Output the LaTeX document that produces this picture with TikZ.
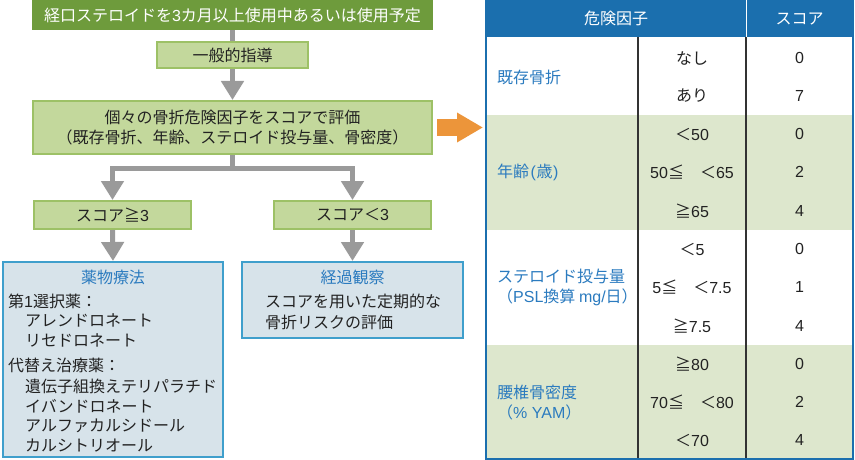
\documentclass[tikz,border=0pt]{standalone}
\usepackage{fontspec}
\setmainfont{Noto Sans CJK JP}
\newfontfamily\lat{Liberation Sans}
\usetikzlibrary{arrows.meta}
\definecolor{dkgreen}{HTML}{6E9B3C}
\definecolor{ltgreen}{HTML}{C3D89C}
\definecolor{ltgreenbd}{HTML}{9DC166}
\definecolor{bluefill}{HTML}{D7E3EA}
\definecolor{bluebd}{HTML}{3F9FCC}
\definecolor{bluetext}{HTML}{2B7BBF}
\definecolor{conngray}{HTML}{9A9A9A}
\definecolor{arrorange}{HTML}{EC953A}
\definecolor{hdrblue}{HTML}{1B6FAE}
\definecolor{rowgreen}{HTML}{DDE7CD}
\definecolor{tabline}{HTML}{333333}
\definecolor{txt}{HTML}{222222}
\newcommand{\fsz}{\fontsize{16}{20}\selectfont}
\newcommand{\nm}[1]{{\lat #1}}
\begin{document}
\begin{tikzpicture}[x=1pt,y=-1pt,
  every node/.style={inner sep=0pt, font=\fsz, text=txt},
  darkbox/.style={fill=dkgreen, minimum width=401pt, minimum height=30pt, text=white},
  gbox/.style={draw=ltgreenbd, fill=ltgreen, line width=2pt},
  bbox/.style={draw=bluebd, fill=bluefill, line width=2pt},
  conn/.style={draw=conngray, line width=5pt},
  arr/.style={conn, -{Triangle[width=22pt,length=19pt]}},
  lbl/.style={anchor=west},
  btxt/.style={text=bluetext}
]
\useasboundingbox (0,0) rectangle (855,460);
\fill[white] (0,0) rectangle (855,460);

% ---- flow chart boxes
\node[darkbox] (top) at (232.5,15) {経口ステロイドを\nm{3}カ月以上使用中あるいは使用予定};
\node[gbox, minimum width=151pt, minimum height=26pt] (ippan) at (232.5,55) {一般的指導};
\node[gbox, minimum width=399pt, minimum height=53pt, align=center] (kojin) at (232.5,127.5)
  {個々の骨折危険因子をスコアで評価\\（既存骨折、年齢、ステロイド投与量、骨密度）};
\node[gbox, minimum width=157pt, minimum height=28pt] (s3) at (112.5,215) {スコア≧\nm{3}};
\node[gbox, minimum width=157pt, minimum height=28pt] (s2) at (352.5,215) {スコア＜\nm{3}};
\node[bbox, minimum width=220pt, minimum height=195pt] (yaku) at (113,359.5) {};
\node[bbox, minimum width=221pt, minimum height=76pt] (keika) at (352.5,300) {};

% ---- connectors
\coordinate (br) at (232.5,168);
\draw[conn] (top.south) -- (ippan.north);
\draw[arr] (ippan.south) -- (kojin.north);
\draw[conn] (kojin.south) -- (br);
\draw[arr] (br) -| (s3.north);
\draw[arr] (br) -| (s2.north);
\draw[arr] (s3.south) -- (yaku.north);
\draw[arr] (s2.south) -- (keika.north);

% ---- texts in blue boxes
\node[btxt] (yt) at (113,277) {薬物療法};
\node[lbl] (y1) at (8,301) {第\nm{1}選択薬：};
\node[lbl] (y2) at (25,320) {アレンドロネート};
\node[lbl] (y3) at (25,340) {リセドロネート};
\node[lbl] (y4) at (8,365) {代替え治療薬：};
\node[lbl] (y5) at (25,386) {遺伝子組換えテリパラチド};
\node[lbl] (y6) at (25,406) {イバンドロネート};
\node[lbl] (y7) at (25,426) {アルファカルシドール};
\node[lbl] (y8) at (25,446) {カルシトリオール};

\node[btxt] (kt) at (352.5,277) {経過観察};
\node[lbl] (k1) at (265,301) {スコアを用いた定期的な};
\node[lbl] (k2) at (265,322) {骨折リスクの評価};

% ---- orange arrow
\coordinate (oa) at (437,127.5);
\coordinate (ob) at (483,127.5);
\draw[arrorange, line width=16pt, -{Triangle[width=28pt,length=26pt]}] (oa) -- (ob);

% ---- table
\fill[hdrblue] (486,0) rectangle (853,37);
\fill[rowgreen] (487,115) rectangle (853,230);
\fill[rowgreen] (487,345) rectangle (853,459);
\draw[white, line width=0.8pt] (746,0) -- (746,37);
\draw[tabline, line width=1.2pt] (638,37) -- (638,459);
\draw[tabline, line width=1.2pt] (746,37) -- (746,459);
\draw[hdrblue, line width=1.6pt] (486,0) -- (486,459) -- (853,459) -- (853,0);

\node[text=white] (h1) at (616,18.5) {危険因子};
\node[text=white] (h2) at (799.5,18.5) {スコア};

\node[lbl, btxt] (f1) at (497,77) {既存骨折};
\node (a1) at (692,58) {なし};   \node (b1) at (799.5,58) {\nm{0}};
\node (a2) at (692,96) {あり};   \node (b2) at (799.5,96) {\nm{7}};

\node[lbl, btxt] (f2) at (497,172) {年齢\kern1.5pt\nm{(}\kern0.5pt歳\kern0.5pt\nm{)}};
\node (a3) at (692,134) {＜\nm{50}};        \node (b3) at (799.5,134) {\nm{0}};
\node (a4) at (692,172) {\nm{50}≦　＜\nm{65}};   \node (b4) at (799.5,172) {\nm{2}};
\node (a5) at (692,211) {≧\nm{65}};         \node (b5) at (799.5,211) {\nm{4}};

\node[lbl, btxt, align=left] (f3) at (497,287) {ステロイド投与量\\（\nm{PSL}換算 \nm{mg/}日）};
\node (a6) at (692,249) {＜\nm{5}};         \node (b6) at (799.5,249) {\nm{0}};
\node (a7) at (692,287) {\nm{5}≦　＜\nm{7.5}};   \node (b7) at (799.5,287) {\nm{1}};
\node (a8) at (692,326) {≧\nm{7.5}};        \node (b8) at (799.5,326) {\nm{4}};

\node[lbl, btxt, align=left] (f4) at (497,403) {腰椎骨密度\\（\nm{\% YAM}）};
\node (a9) at (692,364) {≧\nm{80}};         \node (b9) at (799.5,364) {\nm{0}};
\node (a10) at (692,402) {\nm{70}≦　＜\nm{80}};  \node (b10) at (799.5,402) {\nm{2}};
\node (a11) at (692,440) {＜\nm{70}};       \node (b11) at (799.5,440) {\nm{4}};
\end{tikzpicture}
\end{document}
